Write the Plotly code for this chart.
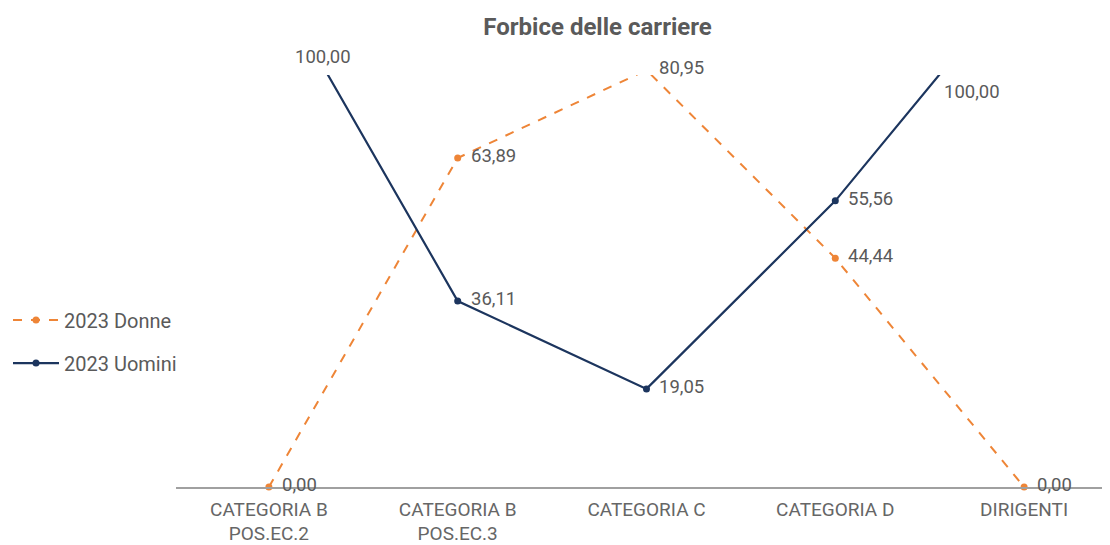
import plotly.graph_objects as go

categories = ["CATEGORIA B<br>POS.EC.2", "CATEGORIA B<br>POS.EC.3", "CATEGORIA C", "CATEGORIA D", "DIRIGENTI"]
donne = [0.00, 63.89, 80.95, 44.44, 0.00]
uomini = [100.00, 36.11, 19.05, 55.56, 100.00]

ORANGE = "#EE8537"
NAVY = "#1C355E"
LABEL = "#5A5A5A"
xs = list(range(len(categories)))
YMAX = 80

def fmt(v):
    return f"{v:.2f}".replace(".", ",")

fig = go.Figure()
fig.add_trace(go.Scatter(x=xs, y=donne, name="2023 Donne", mode="lines+markers",
                         line=dict(color=ORANGE, width=2, dash="dash"),
                         marker=dict(size=7, color=ORANGE), legendgroup="d",
                         cliponaxis=False))
fig.add_trace(go.Scatter(x=xs, y=uomini, name="2023 Uomini", mode="lines+markers",
                         line=dict(color=NAVY, width=2.2),
                         marker=dict(size=7, color=NAVY), legendgroup="u",
                         cliponaxis=False))

# data labels (points in range or slightly above), placed in paper coords
for vals in (donne, uomini):
    for x, v in zip(xs, vals):
        if v <= YMAX + 1:
            fig.add_annotation(x=x, y=v / YMAX, xref="x", yref="paper", text=fmt(v),
                               showarrow=False, xanchor="left", yanchor="middle",
                               xshift=12, yshift=2, borderpad=0,
                               font=dict(family="Roboto", size=18.5, color=LABEL))

# labels for clipped points (100,00)
label_pos = {0: (0.286, 1.044), 4: (3.725, 0.959)}
for i, v in enumerate(uomini):
    if v > YMAX + 1:
        px, py = label_pos[i]
        fig.add_annotation(x=px, y=py, xref="x", yref="paper", text=fmt(v), showarrow=False,
                           xanchor="center", yanchor="middle",
                           font=dict(family="Roboto", size=18.5, color=LABEL))

fig.update_layout(
    width=1102, height=537,
    margin=dict(l=167, r=0, t=67, b=58),
    paper_bgcolor="white", plot_bgcolor="white",
    title=dict(text="<b>Forbice delle carriere</b>", x=0.535, xref="container", y=0.965,
               xanchor="center", yanchor="middle",
               font=dict(family="Roboto", size=24, color=LABEL)),
    font=dict(family="Roboto", color=LABEL),
    legend=dict(x=-0.18, xanchor="left", y=0.353, yanchor="middle",
                font=dict(family="Roboto", size=20, color=LABEL),
                tracegroupgap=14, itemwidth=46, bgcolor="rgba(0,0,0,0)"),
    showlegend=True,
)
fig.update_xaxes(tickmode="array", tickvals=xs, ticktext=categories,
                 range=[-0.492, 4.455], showgrid=False, zeroline=False,
                 showline=True, linecolor="#A0A0A0", linewidth=1.5, ticks="",
                 ticklabelstandoff=4, automargin=False,
                 tickfont=dict(family="Roboto", size=19, color="#666666"))
fig.update_yaxes(range=[0, YMAX], showgrid=False, zeroline=False, showticklabels=False,
                 showline=False, automargin=False)

fig.write_html("out.html")
